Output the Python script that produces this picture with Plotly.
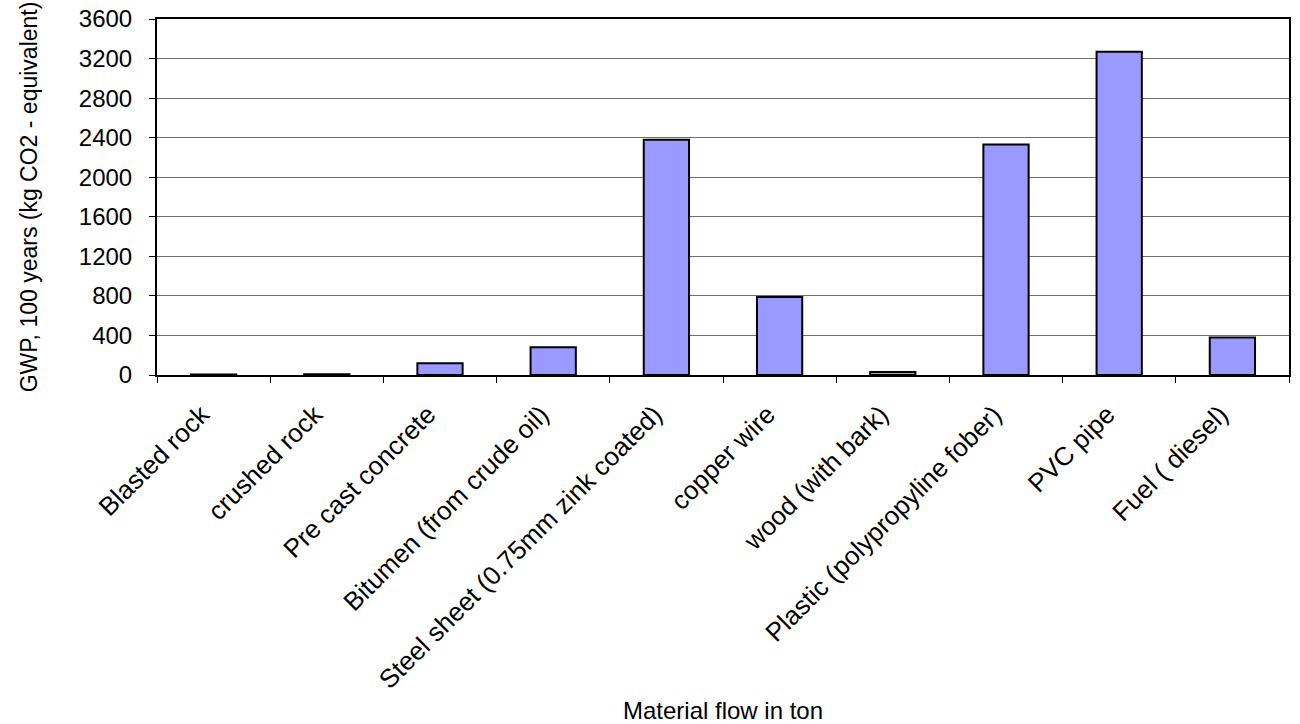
import plotly.graph_objects as go

# Global warming potential per material flow
materials = [
    "Blasted rock",
    "crushed rock",
    "Pre cast concrete",
    "Bitumen (from crude oil)",
    "Steel sheet (0.75mm zink coated)",
    "copper wire",
    "wood (with bark)",
    "Plastic (polypropyline fober)",
    "PVC pipe",
    "Fuel ( diesel)",
]
gwp_values = [5, 8, 120, 280, 2380, 790, 30, 2330, 3270, 380]
y_ticks = [0, 400, 800, 1200, 1600, 2000, 2400, 2800, 3200, 3600]

font_family = "Liberation Sans, Arial, sans-serif"

fig = go.Figure(
    go.Bar(
        x=materials,
        y=gwp_values,
        marker=dict(color="#9999FF", line=dict(color="black", width=2)),
        width=0.4,
    )
)

fig.update_layout(
    width=1300,
    height=724,
    margin=dict(l=157, r=11, t=19, b=349),
    paper_bgcolor="white",
    plot_bgcolor="white",
    showlegend=False,
    font=dict(family=font_family, size=24, color="black"),
    xaxis=dict(
        automargin=False,
        title=dict(text="Material flow in ton", font=dict(size=24), standoff=30),
        tickangle=-45,
        ticks="outside",
        tickson="boundaries",
        ticklen=6,
        tickcolor="black",
        tickfont=dict(size=26),
        ticklabelstandoff=12,
        ticklabelshift=-12,
        showline=True,
        linecolor="black",
        linewidth=2,
        mirror=True,
        showgrid=False,
    ),
    yaxis=dict(
        automargin=False,
        title=dict(text="GWP, 100 years (kg CO2 - equivalent)", font=dict(size=23), standoff=35),
        range=[0, 3600],
        tickvals=y_ticks,
        ticks="outside",
        ticklen=6,
        tickcolor="black",
        tickfont=dict(size=24),
        ticklabelstandoff=12,
        showline=True,
        linecolor="black",
        linewidth=2,
        mirror=True,
        showgrid=True,
        gridcolor="#707070",
        gridwidth=1,
        zeroline=False,
    ),
)

fig.write_html("out.html")
